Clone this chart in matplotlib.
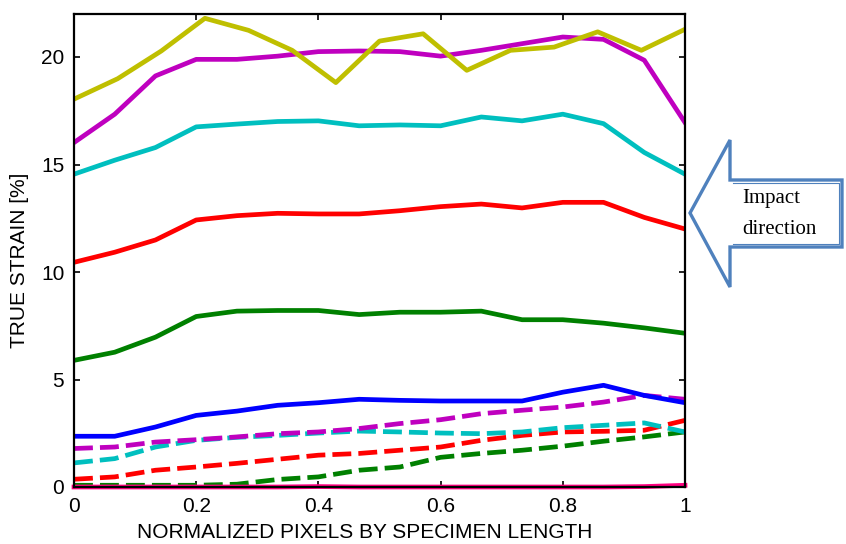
import numpy as np
import matplotlib
matplotlib.use("Agg")
import matplotlib.pyplot as plt
from matplotlib.patches import Polygon
from matplotlib.lines import Line2D

plt.rcParams['font.family'] = ['Liberation Sans', 'DejaVu Sans']

# x positions (normalized)
x16 = np.linspace(0, 1, 16)
x15 = np.linspace(0, 1, 15)

# solid series
yellow = [18.04, 18.99, 20.28, 21.80, 21.24, 20.31, 18.81, 20.74, 21.08, 19.38,
          20.31, 20.46, 21.17, 20.31, 21.29]
magenta = [16.02, 17.34, 19.12, 19.89, 19.89, 20.04, 20.25, 20.28, 20.25, 20.04,
           20.31, 20.62, 20.93, 20.82, 19.85, 16.95]
cyan = [14.55, 15.20, 15.79, 16.75, 16.88, 17.00, 17.03, 16.80, 16.84, 16.80,
        17.21, 17.03, 17.34, 16.90, 15.56, 14.55]
red = [10.45, 10.92, 11.49, 12.42, 12.62, 12.73, 12.70, 12.70, 12.85, 13.04,
       13.16, 12.98, 13.24, 13.24, 12.54, 12.00]
green = [5.89, 6.27, 6.97, 7.93, 8.18, 8.21, 8.21, 8.02, 8.13, 8.13,
         8.18, 7.78, 7.78, 7.62, 7.40, 7.15]
blue = [2.36, 2.36, 2.79, 3.33, 3.53, 3.80, 3.92, 4.08, 4.03, 4.00,
        4.00, 4.00, 4.41, 4.73, 4.26, 3.92]
pink = [0.0, 0.0, 0.0, 0.0, 0.0, 0.0, 0.02, 0.0, 0.0, 0.0,
        0.0, 0.0, 0.0, 0.0, 0.02, 0.08]

# dashed series
magenta_d = [1.79, 1.86, 2.09, 2.20, 2.33, 2.48, 2.56, 2.72, 2.95, 3.13,
             3.41, 3.57, 3.72, 3.95, 4.26, 4.08]
cyan_d = [1.12, 1.32, 1.86, 2.17, 2.31, 2.40, 2.51, 2.60, 2.56, 2.51,
          2.48, 2.56, 2.76, 2.87, 2.98, 2.56]
red_d = [0.36, 0.47, 0.78, 0.93, 1.10, 1.29, 1.48, 1.56, 1.71, 1.86,
         2.17, 2.40, 2.56, 2.59, 2.64, 3.10]
green_d = [0.08, 0.08, 0.08, 0.08, 0.13, 0.35, 0.47, 0.78, 0.93, 1.38,
           1.56, 1.71, 1.90, 2.13, 2.33, 2.56]

xticks = [0, 0.2, 0.4, 0.6, 0.8, 1]
xticklabels = ['0', '0.2', '0.4', '0.6', '0.8', '1']
yticks = [0, 5, 10, 15, 20]

W, H = 846, 544
fig = plt.figure(figsize=(W / 100, H / 100), dpi=100)
ax = fig.add_axes([74 / W, 1 - 487 / H, (685 - 74) / W, (487 - 14) / H])

lw = 3.4
dash = (4.0, 1.5)
ax.plot(x16, green_d, color='#008000', lw=lw, dashes=dash)
ax.plot(x16, red_d, color='#FF0000', lw=lw, dashes=dash)
ax.plot(x16, cyan_d, color='#00BFBF', lw=lw, dashes=dash)
ax.plot(x16, magenta_d, color='#BF00BF', lw=lw, dashes=dash)

ax.plot(x16, blue, color='#0000FF', lw=lw)
ax.plot(x16, green, color='#008000', lw=lw)
ax.plot(x16, red, color='#FF0000', lw=lw)
ax.plot(x16, cyan, color='#00BFBF', lw=lw)
ax.plot(x16, magenta, color='#BF00BF', lw=lw)
ax.plot(x15, yellow, color='#BFBF00', lw=lw)
ax.plot(x16, pink, color='#FF0080', lw=lw, clip_on=False)

ax.set_xlim(0, 1)
ax.set_ylim(0, 22)
ax.set_xticks(xticks)
ax.set_xticklabels(xticklabels)
ax.set_yticks(yticks)
ax.tick_params(direction='in', top=True, right=True, length=4.5, width=1.2,
               labelsize=15, pad=7, colors='black')
for s in ax.spines.values():
    s.set_linewidth(1.6)
ax.set_xlabel('NORMALIZED PIXELS BY SPECIMEN LENGTH', fontsize=15)
ax.set_ylabel('TRUE STRAIN [%]', fontsize=15)
ax.xaxis.set_label_coords(0.476, -0.077)
ax.yaxis.set_label_coords(-0.073, 0.48)

# Impact direction arrow (figure pixel coords, y from top)
def fp(x, y):
    return (x / W, 1 - y / H)

arrow_pts = [fp(690, 213), fp(730, 140), fp(730, 180), fp(842, 180),
             fp(842, 247), fp(730, 247), fp(730, 287)]
arrow = Polygon(arrow_pts, closed=True, facecolor='white', edgecolor='#4F81BD',
                lw=2.4, transform=fig.transFigure, zorder=5)
fig.patches.append(arrow)
inner = [fp(733, 183), fp(839, 183), fp(839, 244), fp(733, 244)]
fig.lines.append(Line2D([p[0] for p in inner], [p[1] for p in inner],
                        color='#4F81BD', lw=0.8, transform=fig.transFigure, zorder=6))

fig.text(742 / W, 1 - 199 / H, 'Impact', family=['Liberation Serif', 'DejaVu Serif'],
         fontsize=15, ha='left', va='center', zorder=7)
fig.text(742 / W, 1 - 229 / H, 'direction', family=['Liberation Serif', 'DejaVu Serif'],
         fontsize=15, ha='left', va='center', zorder=7)

fig.savefig('out.png', dpi=100)
